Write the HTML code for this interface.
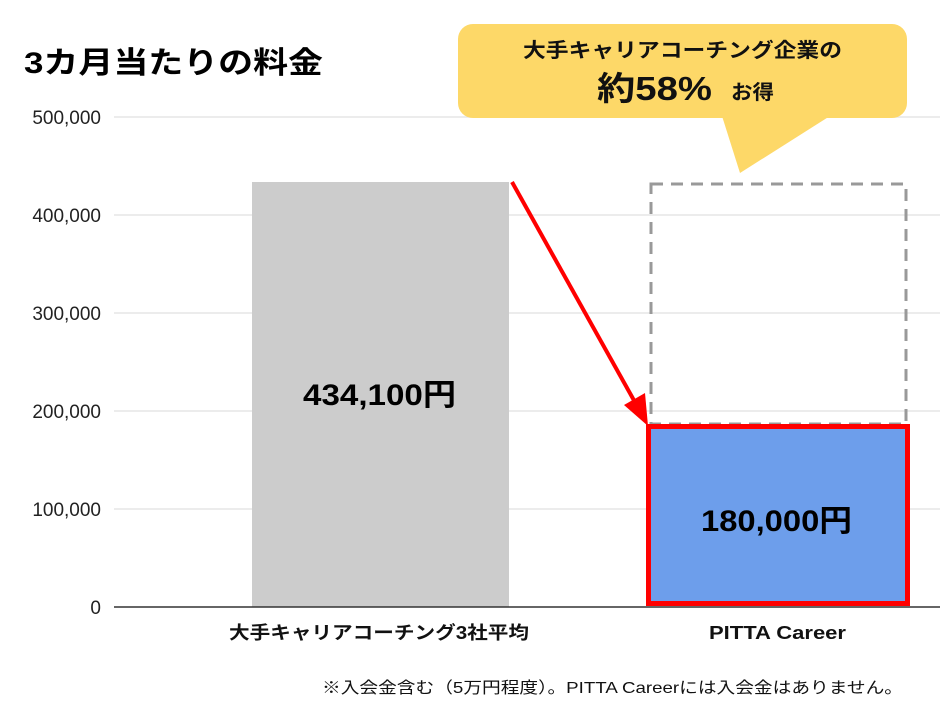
<!DOCTYPE html>
<html><head><meta charset="utf-8"><style>
body{margin:0;background:#fff;}
svg text{font-family:"Liberation Sans","Noto Sans CJK JP",sans-serif;}
</style></head><body>
<svg width="940" height="706" viewBox="0 0 940 706" xmlns="http://www.w3.org/2000/svg">
<rect width="940" height="706" fill="#fff"/>
<text x="24" y="73" font-size="30" font-weight="bold" fill="#000" textLength="299" lengthAdjust="spacingAndGlyphs">3カ月当たりの料金</text>
<g stroke="#e6e6e6" stroke-width="1.5">
<line x1="114" y1="117" x2="940" y2="117"/>
<line x1="114" y1="215" x2="940" y2="215"/>
<line x1="114" y1="313" x2="940" y2="313"/>
<line x1="114" y1="411" x2="940" y2="411"/>
<line x1="114" y1="509" x2="940" y2="509"/>
</g>
<g font-size="19" fill="#222" text-anchor="end">
<text x="101" y="124">500,000</text>
<text x="101" y="222">400,000</text>
<text x="101" y="320">300,000</text>
<text x="101" y="418">200,000</text>
<text x="101" y="516">100,000</text>
<text x="101" y="614">0</text>
</g>
<rect x="252" y="182" width="257" height="425" fill="#cccccc"/>
<text x="303" y="405" font-size="30" font-weight="bold" fill="#000" textLength="153" lengthAdjust="spacingAndGlyphs">434,100円</text>
<rect x="651" y="184" width="255" height="240" fill="none" stroke="#999" stroke-width="3" stroke-dasharray="12,8"/>
<rect x="648.5" y="426.5" width="259" height="177" fill="#6d9eeb" stroke="#ff0000" stroke-width="5"/>
<text x="701" y="531" font-size="30" font-weight="bold" fill="#000" textLength="151" lengthAdjust="spacingAndGlyphs">180,000円</text>
<line x1="114" y1="607" x2="940" y2="607" stroke="#333" stroke-width="1.5"/>
<line x1="512" y1="182" x2="636" y2="404" stroke="#ff0000" stroke-width="4"/>
<polygon points="648,426 624,405 645,393" fill="#ff0000"/>
<rect x="458" y="24" width="449" height="94" rx="15" fill="#fdd868"/>
<polygon points="722,116 830,116 740,173" fill="#fdd868"/>
<text x="523" y="57" font-size="20" font-weight="bold" fill="#111" textLength="319" lengthAdjust="spacingAndGlyphs">大手キャリアコーチング企業の</text>
<text x="597" y="100" font-size="33" font-weight="bold" fill="#111" textLength="115" lengthAdjust="spacingAndGlyphs">約58%</text>
<text x="731" y="99" font-size="20" font-weight="bold" fill="#111" textLength="43" lengthAdjust="spacingAndGlyphs">お得</text>
<text x="229" y="639" font-size="18" font-weight="bold" fill="#111" textLength="300" lengthAdjust="spacingAndGlyphs">大手キャリアコーチング3社平均</text>
<text x="709" y="639" font-size="18" font-weight="bold" fill="#111" textLength="137" lengthAdjust="spacingAndGlyphs">PITTA Career</text>
<text x="322" y="693" font-size="16" fill="#111" textLength="581" lengthAdjust="spacingAndGlyphs">※入会金含む（5万円程度）。PITTA Careerには入会金はありません。</text>
</svg>
</body></html>
